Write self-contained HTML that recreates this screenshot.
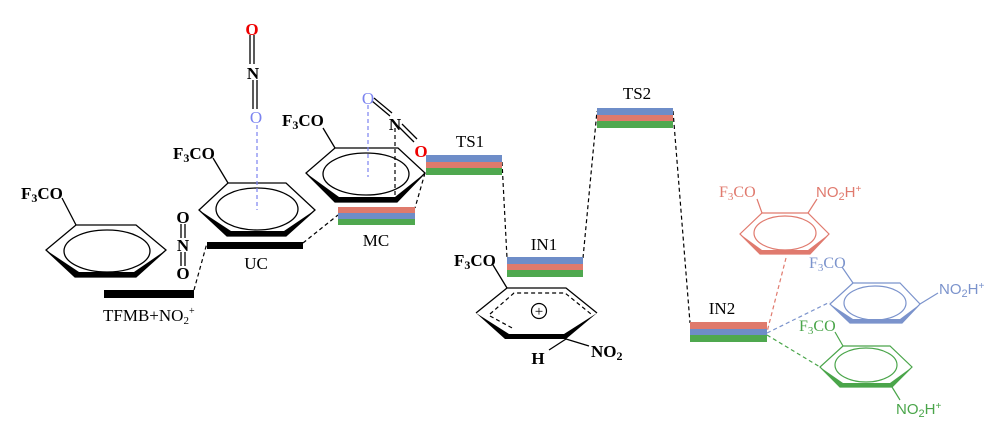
<!DOCTYPE html>
<html><head><meta charset="utf-8"><style>
html,body{margin:0;padding:0;background:#fff;}
svg{display:block;font-family:"Liberation Serif",serif;}
.b{font-weight:bold;font-size:17px;}
.l{font-size:17px;}
</style></head><body>
<svg width="991" height="437" viewBox="0 0 991 437" xmlns="http://www.w3.org/2000/svg">
<g fill="none" stroke="#000" stroke-width="1.3">
<polygon points="76,225 136,225 166,250 136,277 75,277 46,250"/>
<ellipse cx="107" cy="251" rx="43" ry="21"/>
<line x1="62" y1="198" x2="76" y2="225"/>
<polygon points="228,183 286,183 315,210 286,236 227,236 199,210"/>
<ellipse cx="257" cy="209" rx="41" ry="21"/>
<line x1="213" y1="158" x2="228" y2="183"/>
<polygon points="335,148 398,148 425,173 397,202 335,202 306,173"/>
<ellipse cx="366" cy="174" rx="43" ry="21"/>
<line x1="323" y1="128" x2="335" y2="148"/>
<line x1="181" y1="224" x2="181" y2="238"/><line x1="185" y1="224" x2="185" y2="238"/>
<line x1="181" y1="252" x2="181" y2="266"/><line x1="185" y1="252" x2="185" y2="266"/>
<line x1="250" y1="35" x2="250" y2="64"/><line x1="254" y1="35" x2="254" y2="64"/>
<line x1="253" y1="80" x2="253" y2="109"/><line x1="257" y1="80" x2="257" y2="109"/>
<line x1="372" y1="101" x2="390" y2="116"/><line x1="374" y1="98" x2="392" y2="113"/>
<line x1="399" y1="127" x2="414" y2="142"/><line x1="402" y1="124" x2="417" y2="139"/>
<polyline points="476,313 507,288 566,288 597,313"/>
<line x1="493" y1="265" x2="507" y2="288"/>
<line x1="566" y1="339" x2="589" y2="346"/>
<line x1="566" y1="339" x2="549" y2="350"/>
</g>
<g fill="#000">
<polygon points="46,250 75,277 136,277 166,250 134,272 79,272"/>
<polygon points="199,210 227,236 286,236 315,210 284,231 231,231"/>
<polygon points="306,173 335,202 397,202 425,173 395,197 339,197"/>
<polygon points="476,313 505,339 566,339 597,313 564,334 509,334"/>
</g>
<g fill="none" stroke="#000" stroke-width="1.2" stroke-dasharray="4,3">
<polyline points="490,314 514,293 565,293 591,314"/>
<line x1="490" y1="316" x2="514" y2="329"/>
<line x1="395" y1="128" x2="395" y2="197"/>
<line x1="194" y1="290" x2="207" y2="243"/>
<line x1="303" y1="243" x2="338" y2="215"/>
<line x1="425" y1="173" x2="415" y2="208"/>
<line x1="502" y1="162" x2="507" y2="258"/>
<line x1="583" y1="258" x2="597" y2="111"/>
<line x1="673" y1="111" x2="690" y2="323"/>
</g>
<circle cx="539" cy="311" r="7.5" fill="none" stroke="#000" stroke-width="1.2"/>
<text x="539" y="316" font-size="15" text-anchor="middle">+</text>
<g stroke="#7b83f0" stroke-width="1.2" stroke-dasharray="4,3">
<line x1="257" y1="125" x2="257" y2="210"/>
<line x1="368" y1="105" x2="368" y2="177"/>
</g>
<rect x="104" y="290" width="90" height="8" fill="#000"/>
<rect x="207" y="242" width="96" height="7" fill="#000"/>
<rect x="338" y="207" width="77" height="6" fill="#df7a6c"/><rect x="338" y="213" width="77" height="6" fill="#6e8dc8"/><rect x="338" y="219" width="77" height="6" fill="#4fa84f"/>
<rect x="426" y="155" width="76" height="7" fill="#6e8dc8"/><rect x="426" y="162" width="76" height="6" fill="#df7a6c"/><rect x="426" y="168" width="76" height="7" fill="#4fa84f"/>
<rect x="507" y="257" width="76" height="7" fill="#6e8dc8"/><rect x="507" y="264" width="76" height="6" fill="#df7a6c"/><rect x="507" y="270" width="76" height="7" fill="#4fa84f"/>
<rect x="597" y="108" width="76" height="7" fill="#6e8dc8"/><rect x="597" y="115" width="76" height="6" fill="#df7a6c"/><rect x="597" y="121" width="76" height="7" fill="#4fa84f"/>
<rect x="690" y="322" width="77" height="7" fill="#df7a6c"/><rect x="690" y="329" width="77" height="6" fill="#6e8dc8"/><rect x="690" y="335" width="77" height="7" fill="#4fa84f"/>
<text class="b" x="21" y="199">F<tspan font-size="12" dy="3">3</tspan><tspan dy="-3">CO</tspan></text>
<text class="b" x="173" y="159">F<tspan font-size="12" dy="3">3</tspan><tspan dy="-3">CO</tspan></text>
<text class="b" x="282" y="126">F<tspan font-size="12" dy="3">3</tspan><tspan dy="-3">CO</tspan></text>
<text class="b" x="454" y="266">F<tspan font-size="12" dy="3">3</tspan><tspan dy="-3">CO</tspan></text>
<text class="b" x="183" y="223" text-anchor="middle">O</text>
<text class="b" x="183" y="251" text-anchor="middle">N</text>
<text class="b" x="183" y="279" text-anchor="middle">O</text>
<text class="b" x="252" y="35" text-anchor="middle" fill="#e00">O</text>
<text class="b" x="253" y="79" text-anchor="middle">N</text>
<text x="256" y="123" font-size="17" text-anchor="middle" fill="#7b83f0">O</text>
<text x="368" y="104" font-size="17" text-anchor="middle" fill="#7b83f0">O</text>
<text class="b" x="395" y="130" text-anchor="middle">N</text>
<text class="b" x="421" y="157" text-anchor="middle" fill="#e00">O</text>
<text class="b" x="538" y="364" text-anchor="middle">H</text>
<text class="b" x="591" y="357">NO<tspan font-size="12" dy="3">2</tspan></text>
<text class="l" x="103" y="321">TFMB+NO<tspan font-size="11" dy="3">2</tspan><tspan font-size="10" dy="-10">+</tspan></text>
<text class="l" x="256" y="269" text-anchor="middle">UC</text>
<text class="l" x="376" y="246" text-anchor="middle">MC</text>
<text class="l" x="470" y="147" text-anchor="middle">TS1</text>
<text class="l" x="544" y="250" text-anchor="middle">IN1</text>
<text class="l" x="637" y="99" text-anchor="middle">TS2</text>
<text class="l" x="722" y="314" text-anchor="middle">IN2</text>
<g stroke="#e07a6e" fill="none" stroke-width="1.2">
<polygon points="762,213 808,213 829,234 810,254 760,254 740,234"/>
<ellipse cx="785" cy="233" rx="31" ry="17"/>
<line x1="757" y1="199" x2="762" y2="213"/><line x1="817" y1="199" x2="808" y2="213"/>
<line x1="786" y1="258" x2="767" y2="332" stroke-dasharray="4,3"/>
</g>
<polygon points="740,234 760,254 810,254 829,234 808,250 762,250" fill="#e07a6e"/>
<text x="719" y="197" font-size="16" fill="#e07a6e">F<tspan font-size="11" dy="3">3</tspan><tspan dy="-3">CO</tspan></text>
<text x="816" y="197" font-family="Liberation Sans,sans-serif" font-size="15" fill="#e07a6e">NO<tspan font-size="11" dy="3">2</tspan><tspan dy="-3">H</tspan><tspan font-size="10" dy="-5">+</tspan></text>
<g stroke="#7b93cc" fill="none" stroke-width="1.2">
<polygon points="853,283 900,283 920,304 902,323 850,323 830,304"/>
<ellipse cx="875" cy="303" rx="31" ry="17"/>
<line x1="842" y1="267" x2="853" y2="283"/><line x1="920" y1="304" x2="938" y2="293"/>
<line x1="767" y1="333" x2="830" y2="302" stroke-dasharray="4,3"/>
</g>
<polygon points="830,304 850,323 902,323 920,304 900,319 853,319" fill="#7b93cc"/>
<text x="809" y="268" font-size="16" fill="#7b93cc">F<tspan font-size="11" dy="3">3</tspan><tspan dy="-3">CO</tspan></text>
<text x="939" y="294" font-family="Liberation Sans,sans-serif" font-size="15" fill="#7b93cc">NO<tspan font-size="11" dy="3">2</tspan><tspan dy="-3">H</tspan><tspan font-size="10" dy="-5">+</tspan></text>
<g stroke="#4aa54a" fill="none" stroke-width="1.2">
<polygon points="843,346 890,346 912,367 892,387 840,387 820,367"/>
<ellipse cx="866" cy="365" rx="31" ry="17"/>
<line x1="835" y1="332" x2="843" y2="346"/><line x1="892" y1="387" x2="900" y2="400"/>
<line x1="767" y1="335" x2="820" y2="367" stroke-dasharray="4,3"/>
</g>
<polygon points="820,367 840,387 892,387 912,367 890,383 843,383" fill="#4aa54a"/>
<text x="799" y="331" font-size="16" fill="#4aa54a">F<tspan font-size="11" dy="3">3</tspan><tspan dy="-3">CO</tspan></text>
<text x="896" y="414" font-family="Liberation Sans,sans-serif" font-size="15" fill="#4aa54a">NO<tspan font-size="11" dy="3">2</tspan><tspan dy="-3">H</tspan><tspan font-size="10" dy="-5">+</tspan></text>
</svg>
</body></html>
